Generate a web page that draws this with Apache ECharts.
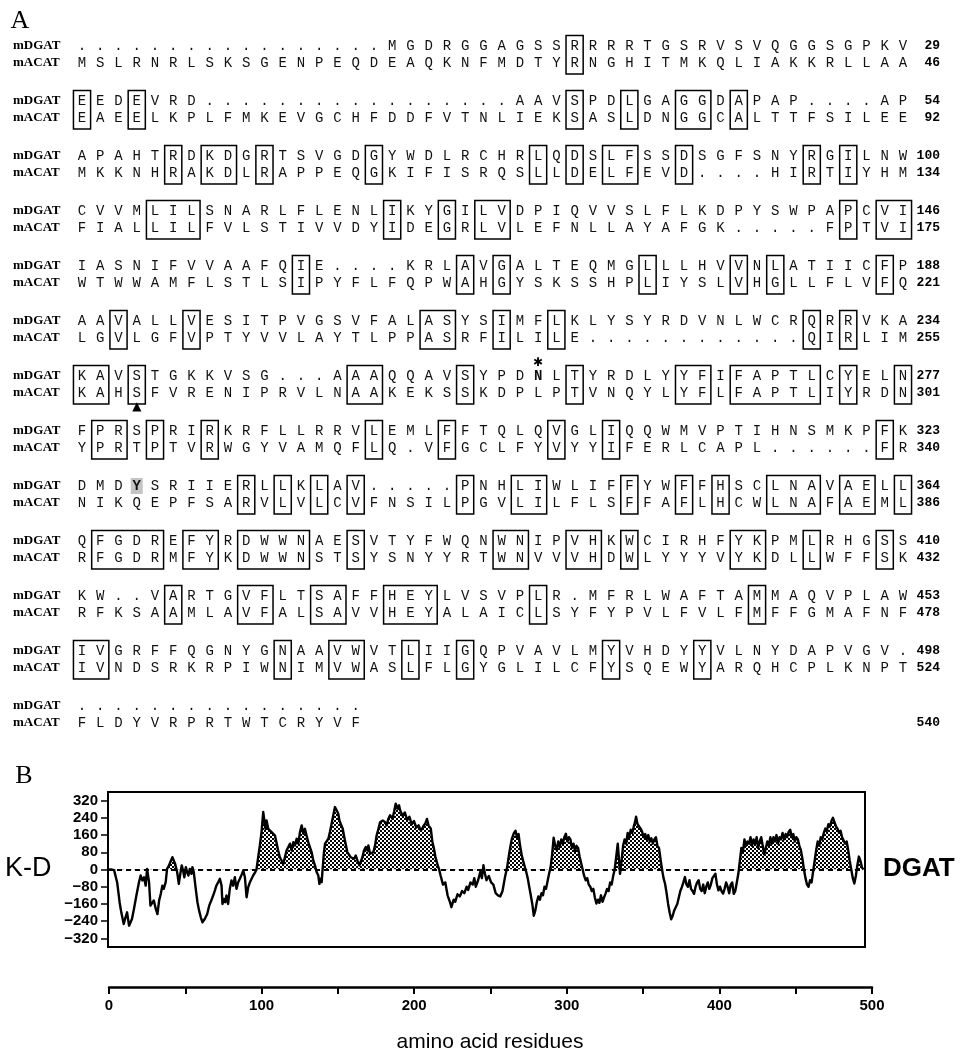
<!DOCTYPE html>
<html><head><meta charset="utf-8">
<script src="https://cdn.jsdelivr.net/npm/echarts@6/dist/echarts.min.js"></script>
<style>html,body{margin:0;padding:0;background:#fff}#c{width:960px;height:1050px}</style>
</head><body><div id="c"></div>
<script>
// ---------- Part A: alignment data ----------
const dgatRows = [
  ".................MGDRGGAGSSRRRRTGSRVSVQGGSGPKV",
  "EEDEVRD.................AAVSPDLGAGGDAPAP....AP",
  "APAHTRDKDGRTSVGDGYWDLRCHRLQDSLFSSDSGFSNYRGILNW",
  "CVVMLILSNARLFLENLIKYGILVDPIQVVSLFLKDPYSWPAPCVI",
  "IASNIFVVAAFQIE....KRLAVGALTEQMGLLLHVVNLATIICFP",
  "AAVALLVESITPVGSVFALASYSIMFLKLYSYRDVNLWCRQRRVKA",
  "KAVSTGKKVSG...AAAQQAVSYPDNLTYRDLYYFIFAPTLCYELN",
  "FPRSPRIRKRFLLRRVLEMLFFTQLQVGLIQQWMVPTIHNSMKPFK",
  "DMDYSRIIERLLKLAV.....PNHLIWLIFFYWFFHSCLNAVAELL",
  "QFGDREFYRDWWNAESVTYFWQNWNIPVHKWCIRHFYKPMLRHGSS",
  "KW..VARTGVFLTSAFFHEYLVSVPLR.MFRLWAFTAMMAQVPLAW",
  "IVGRFFQGNYGNAAVWVTLIIGQPVAVLMYVHDYYVLNYDAPVGV.",
  "................"
];
const acatRows = [
  "MSLRNRLSKSGENPEQDEAQKNFMDTYRNGHITMKQLIAKKRLLAA",
  "EAEELKPLFMKEVGCHFDDFVTNLIEKSASLDNGGCALTTFSILEE",
  "MKKNHRAKDLRAPPEQGKIFISRQSLLDELFEVD....HIRTIYHM",
  "FIALLILFVLSTIVVDYIDEGRLVLEFNLLAYAFGK.....FPTVI",
  "WTWWAMFLSTLSIPYFLFQPWAHGYSKSSHPLIYSLVHGLLFLVFQ",
  "LGVLGFVPTYVVLAYTLPPASRFILILE............QIRLIM",
  "KAHSFVRENIPRVLNAAKEKSSKDPLPTVNQYLYFLFAPTLIYRDN",
  "YPRTPTVRWGYVAMQFLQ.VFGCLFYVYYIFERLCAPL......FR",
  "NIKQEPFSARVLVLCVFNSILPGVLILFLSFFAFLHCWLNAFAEML",
  "RFGDRMFYKDWWNSTSYSNYYRTWNVVVHDWLYYYVYKDLLWFFSK",
  "RFKSAAMLAVFALSAVVHEYALAICLSYFYPVLFVLFMFFGMAFNF",
  "IVNDSRKRPIWNIMVWASLFLGYGLILCFYSQEWYARQHCPLKNPT",
  "FLDYVRPRTWTCRYVF"
];
const dgatEnds = [29,54,100,146,188,234,277,323,364,410,453,498,null];
const acatEnds = [46,92,134,175,221,255,301,340,386,432,478,524,540];
// [row, firstColumn, lastColumn] of boxed identity blocks
const boxes = [
  [0,28,28],
  [1,1,1],[1,4,4],[1,28,28],[1,31,31],[1,34,35],[1,37,37],
  [2,6,6],[2,8,9],[2,11,11],[2,17,17],[2,26,26],[2,28,28],[2,30,31],[2,34,34],[2,41,41],[2,43,43],
  [3,5,7],[3,18,18],[3,21,21],[3,23,24],[3,43,43],[3,45,46],
  [4,13,13],[4,22,22],[4,24,24],[4,32,32],[4,37,37],[4,39,39],[4,45,45],
  [5,3,3],[5,7,7],[5,20,21],[5,24,24],[5,27,27],[5,41,41],[5,43,43],
  [6,1,2],[6,4,4],[6,16,17],[6,22,22],[6,28,28],[6,34,35],[6,37,41],[6,43,43],[6,46,46],
  [7,2,3],[7,5,5],[7,8,8],[7,17,17],[7,21,21],[7,27,27],[7,30,30],[7,45,45],
  [8,10,10],[8,12,12],[8,14,14],[8,16,16],[8,22,22],[8,25,26],[8,31,31],[8,34,34],[8,36,36],[8,39,41],[8,43,44],[8,46,46],
  [9,2,5],[9,7,8],[9,10,13],[9,16,16],[9,24,25],[9,28,29],[9,31,31],[9,37,38],[9,41,41],[9,45,45],
  [10,6,6],[10,10,11],[10,14,15],[10,18,20],[10,26,26],[10,38,38],
  [11,1,2],[11,12,12],[11,15,16],[11,19,19],[11,22,22],[11,30,30],[11,35,35]
];
const boldDgat = [[6,26],[8,4]];      // [row, column] bold mDGAT residues
const shadedDgat = [[8,4]];           // shaded background residue
const starAbove = [[6,26]];           // asterisk above mDGAT
const triangleBelow = [[6,4]];        // triangle below mACAT

// ---------- Part B: hydropathy (Kyte-Doolittle) ----------
const residues = [
 0,2,4,5,6,7.6,8.7,10.3,11.5,12.5,
 13.8,14.7,15.7,17,18.6,20.3,21.4,22.5,23.6,24.7,
 25.6,26.9,27.8,29,30,31.3,32.4,33.5,34.6,35.6,
 36.5,37.8,38.7,40,41,42.2,43.1,44,45.3,46.4,
 47.2,48.3,49.2,50,51,51.8,52.7,53.6,54.7,55.3,
 56.2,57.5,58.6,59.7,60.8,61.9,63.4,65,66.3,67.4,
 68.9,70,71,72.2,73.3,74.4,75,75.9,76.8,77.6,
 78.7,79.8,80.9,82,83.1,84.2,85.3,86.4,87.5,88.6,
 89.7,90.8,91.9,93,94,95.1,96.2,97.3,98.4,99.5,
 100.6,101.7,102.4,103.2,103.9,105,106,107.2,108.3,109.4,
 110.5,111.5,112.6,113.7,114.8,115.9,117,118,119.2,120.3,
 121.4,122.5,123.6,124.7,125.8,126.9,128,129,130.1,131.2,
 132.3,133.4,134.5,135.6,136.7,137.8,138.5,139.3,140,140.6,
 141.5,142.2,143.3,144.4,145.4,146.5,147.6,148.7,149.8,150.9,
 151.6,152.4,153.8,154.6,155.7,156.8,157.9,159,160.1,161.2,
 162.3,163.4,164.7,165.6,166.7,167.7,168.9,170,170.6,171.7,
 172.8,173.9,175,176,177.2,178.3,180,181.5,182.6,183.7,
 184.8,185.3,186.4,187.4,188.5,189.6,190.7,191.4,193,194.5,
 196,197.5,199,200.5,202,203.5,205,206.5,208,209,
 210,211.5,212.5,213.5,214.5,216,217,218,219.5,221,
 222.5,224,225,226.5,227.5,229,230.5,232,233.5,235,
 236,237.5,239,240,241,242.5,244,245,246,247,
 248,249.5,251,252.5,254,255.5,257,258.5,260,261.5,
 263,264.5,266,267,268,269,270,271,272,273,
 274,275,276,277,278,279,280,281,282,283,
 284,285,286,287,288,289,290,291,292,293,
 294,295,296,297,298,299,300,301,302,303,
 304,305,306,307,308,309,310,311,312,313,
 314,315,316,317,318,319,320,321,322,323,
 324,325,326,327,328,329,330,331,332,333,
 334,335,335.5,336.5,337.5,338.5,339.5,340.5,341.5,342.5,
 343.5,344.5,345.3,346,347,348,349,350,351,352,
 353,354,355,356,357,358,359,360,361,362,
 363,364,365,366,367,368,369,370,371,372,
 373,374,375,376,377,378,379,380,381,382,
 383,384,385,386,387,388,389,390,391,392,
 393,394,395,396,397,398,399,400,401,402,
 403,404,405,406,407,408,409,410,411,412,
 413,414,415,416,417,418,419,420,421,422,
 423,424,425,426,427,428,429,430,431,432,
 433,434,435,436,437,438,439,440,441,442,
 443,444,445,446,447,448,449,450,451,452,
 453,454,455,456,457,458,459,460,461,462,
 463,464,465,466,467,468,469,470,471,472,
 473,474,475,476,477,478,479,480,481,482,
 483,484,485,486,487,488,489,490,491,492,
 493,494,495
];
const kdValues = [
 0,0,-3,-12,-60,-152,-199,-253,-222,-199,
 -261,-269,-230,-183,-121,-59,-28,-51,-36,-75,
 3,-59,-168,-175,-144,-183,-207,-144,-113,-75,
 -90,-59,3,19,37,57,53,26,-12,-67,
 -28,19,-5,-36,11,-12,-28,3,-20,11,
 -12,-90,-152,-191,-222,-245,-230,-207,-168,-149,
 -121,-98,-75,-59,-43,-75,-160,-137,-152,-121,
 -160,-90,-51,-75,-36,-90,-59,-43,-25,-5,
 -36,-129,-82,-59,-51,-28,-16,0,57,112,
 174,267,267,189,228,189,197,174,182,158,
 158,88,57,42,26,57,88,81,120,88,
 127,112,143,120,174,205,166,189,158,127,
 104,81,42,19,-12,-28,-67,-43,-59,0,
 81,120,127,143,174,213,252,290,275,259,
 228,236,189,158,166,81,73,57,65,50,
 65,42,19,11,57,88,104,88,112,73,
 65,81,112,158,189,220,228,220,205,236,
 252,259,236,267,306,283,298,275,250,265,
 230,245,210,225,195,205,180,200,215,235,
 205,190,130,100,60,20,0,-30,-70,-60,
 -120,-150,-175,-140,-150,-115,-125,-100,-110,-80,
 -95,-60,-70,-40,-80,-50,-10,-40,20,-20,
 -50,-30,-60,-70,-110,-120,-125,-100,-40,10,
 80,140,170,180,150,165,110,70,40,15,
 -10,-40,-80,-120,-160,-215,-190,-150,-125,-140,
 -110,-120,-80,-90,-55,-20,10,70,148,110,
 90,130,105,140,120,150,166,130,150,140,
 100,120,85,110,100,60,30,0,-30,-50,
 -40,-70,-80,-100,-90,-130,-158,-140,-155,-120,
 -150,-130,-112,-90,-100,-60,-70,-30,0,60,
 120,30,-20,40,110,140,120,170,150,185,
 170,200,220,245,210,200,190,175,150,165,
 140,160,130,145,120,140,150,110,100,50,
 0,-40,-66,-110,-160,-200,-231,-215,-190,-175,
 -160,-130,-100,-82,-60,-35,-70,-80,-50,-90,
 -100,-113,-80,-60,-50,-90,-100,-70,-110,-80,
 -60,-90,-70,-40,-30,-20,-70,-97,-80,-100,
 -112,-90,-60,-80,-110,-70,-60,-113,-100,-60,
 -20,40,100,80,140,110,130,120,150,110,
 140,120,150,100,130,150,110,70,100,130,
 110,150,120,150,130,160,120,150,140,170,
 140,165,150,175,185,150,165,130,150,140,
 110,90,50,0,-40,-70,-80,-50,-60,-10,
 40,90,130,110,150,140,170,190,180,210,
 200,225,240,220,200,190,170,180,150,150,
 120,130,90,40,0,-40,-65,-30,20,60,
 40,10,0
];
const yTickValues = [-320,-240,-160,-80,0,80,160,240,320];
const xTickLabels = [0,100,200,300,400,500];
const xTickMarks = [0,50,100,150,200,250,300,350,400,450,500];

// ---------- build ----------
const OFF = 0.31;               // offset of the mACAT line below the mDGAT line (row units)
const isBold = (r,c) => boldDgat.some(b => b[0]===r && b[1]===c);
const letters = [];
dgatRows.forEach((s,r) => { for (let i=0;i<s.length;i++) letters.push([i+1, r, s[i], isBold(r,i+1)]); });
acatRows.forEach((s,r) => { for (let i=0;i<s.length;i++) letters.push([i+1, r+OFF, s[i], false]); });
const nameItems = [];
const endItems = [];
dgatRows.forEach((s,r) => {
  nameItems.push([1, r, 'mDGAT']); nameItems.push([1, r+OFF, 'mACAT']);
  if (dgatEnds[r] != null) endItems.push([46, r, String(dgatEnds[r])]);
  if (acatEnds[r] != null) endItems.push([46, r+OFF, String(acatEnds[r])]);
});
const marks = [];
starAbove.forEach(m => marks.push([m[1], m[0]-0.24, '\u2731']));
triangleBelow.forEach(m => marks.push([m[1], m[0]+OFF+0.25, '\u25B2']));

function makePattern(){
  const c = document.createElement('canvas'); c.width = 4; c.height = 4;
  const g = c.getContext('2d');
  g.fillStyle = '#000'; g.fillRect(0,0,4,4);
  g.fillStyle = '#fff'; g.fillRect(0,0,2,2); g.fillRect(2,2,2,2);
  return c;
}
const pattern = {image: makePattern(), repeat: 'repeat'};
const kdData = residues.map((x,i) => [x, kdValues[i]]);

const chart = echarts.init(document.getElementById('c'), null, {renderer:'canvas'});
const boldSans = {fontFamily:'"Liberation Sans", Arial, sans-serif', fontWeight:'bold', fontSize:15, color:'#000'};

chart.setOption({
  backgroundColor:'#fff',
  animation:false,
  grid:[
    {left:72.9, top:18.5, width:839.2, height:731.5, show:false},
    {left:108, top:792, width:757, height:155, show:true, borderColor:'#000', borderWidth:2, backgroundColor:'transparent'},
    {left:109, top:950, width:763, height:37, show:false}
  ],
  xAxis:[
    {gridIndex:0, type:'value', min:0.5, max:46.5, show:false},
    {gridIndex:1, type:'value', min:0, max:496, show:false},
    {gridIndex:2, type:'value', min:0, max:500, position:'bottom',
     axisLine:{show:true, lineStyle:{color:'#000', width:2.5}},
     axisTick:{show:true, customValues:xTickMarks, length:7, inside:false, lineStyle:{color:'#000', width:2}},
     axisLabel:Object.assign({customValues:xTickLabels, margin:11}, boldSans),
     splitLine:{show:false}}
  ],
  yAxis:[
    {gridIndex:0, type:'value', min:-0.5, max:12.8, inverse:true, show:false},
    {gridIndex:1, type:'value', min:-360, max:360, position:'left',
     axisLine:{show:true, lineStyle:{color:'#000', width:2}},
     axisTick:{show:true, customValues:yTickValues, length:7, inside:false, lineStyle:{color:'#000', width:1.5}},
     axisLabel:Object.assign({customValues:yTickValues, margin:10, formatter:v => v<0 ? '\u2212'+(-v) : String(v)}, boldSans),
     splitLine:{show:false}},
    {gridIndex:2, type:'value', min:0, max:1, show:false}
  ],
  graphic:[
    {type:'text', x:20, y:21, style:{text:'A', font:'26px "Liberation Serif"', fill:'#000', align:'center', verticalAlign:'middle'}},
    {type:'text', x:24, y:776, style:{text:'B', font:'26px "Liberation Serif"', fill:'#000', align:'center', verticalAlign:'middle'}},
    {type:'text', x:5, y:869, style:{text:'K-D', font:'27px "Liberation Sans"', fill:'#000', align:'left', verticalAlign:'middle'}},
    {type:'text', x:883, y:869, style:{text:'DGAT', font:'bold 26px "Liberation Sans"', fill:'#000', align:'left', verticalAlign:'middle'}},
    {type:'text', x:490, y:1042, style:{text:'amino acid residues', font:'21px "Liberation Sans"', fill:'#000', align:'center', verticalAlign:'middle'}}
  ],
  series:[
    // shaded residue background
    {type:'custom', xAxisIndex:0, yAxisIndex:0, silent:true, z:1,
     data:shadedDgat.map(s => [s[1], s[0]]),
     renderItem:(p, api) => {
       const c = api.coord([api.value(0), api.value(1)]);
       return {type:'rect', shape:{x:c[0]-6, y:c[1]-8, width:12, height:16}, style:{fill:'#c4c4c4'}};
     }},
    // identity boxes
    {type:'custom', xAxisIndex:0, yAxisIndex:0, silent:true, z:2,
     data:boxes.map(b => [b[1], b[2], b[0]]),
     renderItem:(p, api) => {
       const s = api.value(0), e = api.value(1), r = api.value(2);
       const a = api.coord([s-0.47, r-0.19]);
       const b = api.coord([e+0.47, r+OFF+0.2]);
       return {type:'rect', shape:{x:a[0], y:a[1], width:b[0]-a[0], height:b[1]-a[1]},
               style:{fill:null, stroke:'#000', lineWidth:1.5}};
     }},
    // residue letters
    {type:'custom', xAxisIndex:0, yAxisIndex:0, silent:true, z:3,
     data:letters.map(d => [d[0], d[1]]),
     renderItem:(p, api) => {
       const d = letters[p.dataIndex];
       const c = api.coord([d[0], d[1]]);
       return {type:'text', x:c[0], y:c[1], style:{text:d[2], fill:'#111',
         font:(d[3]?'bold ':'')+'14px "Liberation Mono"', align:'center', verticalAlign:'middle'}};
     }},
    // sequence names
    {type:'custom', xAxisIndex:0, yAxisIndex:0, silent:true, z:3,
     data:nameItems.map(d => [d[0], d[1]]),
     renderItem:(p, api) => {
       const d = nameItems[p.dataIndex];
       const c = api.coord([d[0], d[1]]);
       return {type:'text', x:c[0]-69, y:c[1], style:{text:d[2], fill:'#000',
         font:'bold 13px "Liberation Serif"', align:'left', verticalAlign:'middle'}};
     }},
    // residue numbers
    {type:'custom', xAxisIndex:0, yAxisIndex:0, silent:true, z:3,
     data:endItems.map(d => [d[0], d[1]]),
     renderItem:(p, api) => {
       const d = endItems[p.dataIndex];
       const c = api.coord([d[0], d[1]]);
       return {type:'text', x:c[0]+37, y:c[1], style:{text:d[2], fill:'#000',
         font:'bold 13px "Liberation Mono"', align:'right', verticalAlign:'middle'}};
     }},
    // asterisk / triangle
    {type:'custom', xAxisIndex:0, yAxisIndex:0, silent:true, z:3,
     data:marks.map(d => [d[0], d[1]]),
     renderItem:(p, api) => {
       const d = marks[p.dataIndex];
       const c = api.coord([d[0], d[1]]);
       return {type:'text', x:c[0], y:c[1], style:{text:d[2], fill:'#000',
         font:'12px "DejaVu Sans"', align:'center', verticalAlign:'middle'}};
     }},
    // Part B: stippled area
    {type:'line', xAxisIndex:1, yAxisIndex:1, data:kdData, symbol:'none', showSymbol:false, silent:true, z:1,
     lineStyle:{width:0, opacity:0}, areaStyle:{color:pattern, opacity:1}},
    // white mask below zero (area shown only above zero)
    {type:'custom', xAxisIndex:1, yAxisIndex:1, silent:true, z:2, data:[[0]],
     renderItem:(p, api) => {
       const a = api.coord([1, 0]); const b = api.coord([495, -330]);
       return {type:'rect', shape:{x:a[0], y:a[1], width:b[0]-a[0], height:b[1]-a[1]}, style:{fill:'#fff'}};
     }},
    // profile line + dashed zero line
    {type:'line', xAxisIndex:1, yAxisIndex:1, data:kdData, symbol:'none', showSymbol:false, silent:true, z:3,
     lineStyle:{color:'#000', width:2.4, join:'round'},
     markLine:{silent:true, symbol:['none','none'], label:{show:false},
       lineStyle:{color:'#000', type:[5,4], width:2}, data:[{yAxis:0}]}}
  ]
});
</script>
</body></html>
